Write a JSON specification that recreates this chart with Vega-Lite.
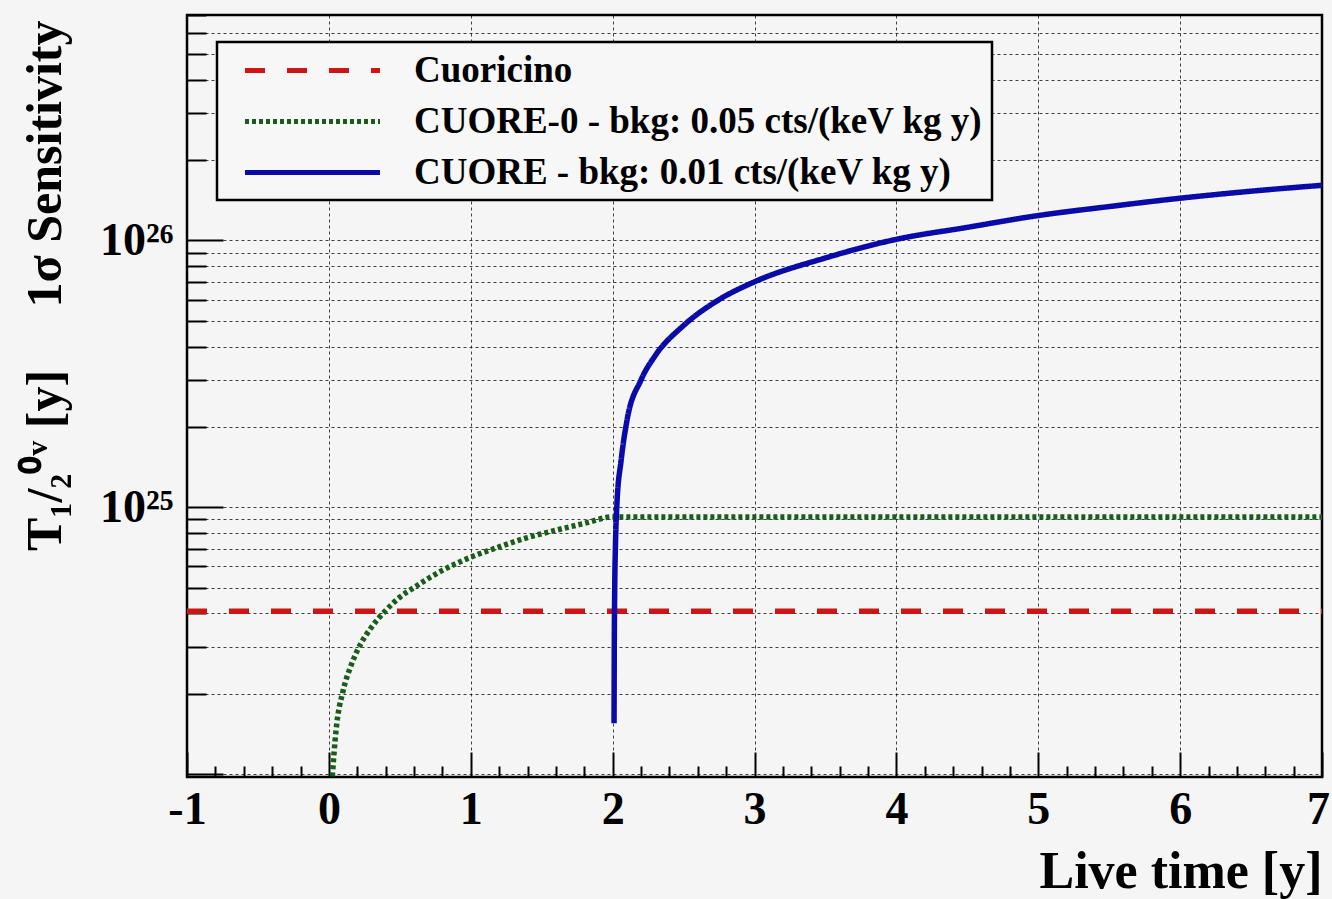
{
  "$schema": "https://vega.github.io/schema/vega-lite/v6.json",
  "width": 1135,
  "height": 762,
  "autosize": {"type": "none"},
  "padding": {"left": 187, "top": 15, "right": 10, "bottom": 122},
  "background": "#f5f5f5",
  "config": {
    "view": {"stroke": "#000000", "strokeWidth": 2.5, "fill": "#f5f5f5"},
    "font": "Liberation Serif"
  },
  "data": {
    "values": [
      {"series": "Cuoricino", "x": -1, "y": 4.08e24},
      {"series": "Cuoricino", "x": 7, "y": 4.08e24},
      {"series": "CUORE-0 - bkg: 0.05 cts/(keV kg y)", "x": 0.024, "y": 0.98e24},
      {"series": "CUORE-0 - bkg: 0.05 cts/(keV kg y)", "x": 0.05, "y": 1.45e24},
      {"series": "CUORE-0 - bkg: 0.05 cts/(keV kg y)", "x": 0.1, "y": 2.05e24},
      {"series": "CUORE-0 - bkg: 0.05 cts/(keV kg y)", "x": 0.15, "y": 2.5e24},
      {"series": "CUORE-0 - bkg: 0.05 cts/(keV kg y)", "x": 0.2, "y": 2.9e24},
      {"series": "CUORE-0 - bkg: 0.05 cts/(keV kg y)", "x": 0.3, "y": 3.55e24},
      {"series": "CUORE-0 - bkg: 0.05 cts/(keV kg y)", "x": 0.4, "y": 4.1e24},
      {"series": "CUORE-0 - bkg: 0.05 cts/(keV kg y)", "x": 0.5, "y": 4.6e24},
      {"series": "CUORE-0 - bkg: 0.05 cts/(keV kg y)", "x": 0.6, "y": 5.0e24},
      {"series": "CUORE-0 - bkg: 0.05 cts/(keV kg y)", "x": 0.8, "y": 5.8e24},
      {"series": "CUORE-0 - bkg: 0.05 cts/(keV kg y)", "x": 1.0, "y": 6.5e24},
      {"series": "CUORE-0 - bkg: 0.05 cts/(keV kg y)", "x": 1.2, "y": 7.1e24},
      {"series": "CUORE-0 - bkg: 0.05 cts/(keV kg y)", "x": 1.4, "y": 7.7e24},
      {"series": "CUORE-0 - bkg: 0.05 cts/(keV kg y)", "x": 1.6, "y": 8.2e24},
      {"series": "CUORE-0 - bkg: 0.05 cts/(keV kg y)", "x": 1.8, "y": 8.7e24},
      {"series": "CUORE-0 - bkg: 0.05 cts/(keV kg y)", "x": 2.0, "y": 9.2e24},
      {"series": "CUORE-0 - bkg: 0.05 cts/(keV kg y)", "x": 7.0, "y": 9.2e24},
      {"series": "CUORE - bkg: 0.01 cts/(keV kg y)", "x": 2.01, "y": 1.55e24},
      {"series": "CUORE - bkg: 0.01 cts/(keV kg y)", "x": 2.012, "y": 3.2e24},
      {"series": "CUORE - bkg: 0.01 cts/(keV kg y)", "x": 2.015, "y": 5.1e24},
      {"series": "CUORE - bkg: 0.01 cts/(keV kg y)", "x": 2.02, "y": 7.2e24},
      {"series": "CUORE - bkg: 0.01 cts/(keV kg y)", "x": 2.03, "y": 1.02e25},
      {"series": "CUORE - bkg: 0.01 cts/(keV kg y)", "x": 2.06, "y": 1.5e25},
      {"series": "CUORE - bkg: 0.01 cts/(keV kg y)", "x": 2.1, "y": 2.1e25},
      {"series": "CUORE - bkg: 0.01 cts/(keV kg y)", "x": 2.2, "y": 3.0e25},
      {"series": "CUORE - bkg: 0.01 cts/(keV kg y)", "x": 2.3, "y": 3.7e25},
      {"series": "CUORE - bkg: 0.01 cts/(keV kg y)", "x": 2.5, "y": 4.8e25},
      {"series": "CUORE - bkg: 0.01 cts/(keV kg y)", "x": 2.75, "y": 6.0e25},
      {"series": "CUORE - bkg: 0.01 cts/(keV kg y)", "x": 3.0, "y": 7.0e25},
      {"series": "CUORE - bkg: 0.01 cts/(keV kg y)", "x": 3.5, "y": 8.6e25},
      {"series": "CUORE - bkg: 0.01 cts/(keV kg y)", "x": 4.0, "y": 1.01e26},
      {"series": "CUORE - bkg: 0.01 cts/(keV kg y)", "x": 4.5, "y": 1.12e26},
      {"series": "CUORE - bkg: 0.01 cts/(keV kg y)", "x": 5.0, "y": 1.24e26},
      {"series": "CUORE - bkg: 0.01 cts/(keV kg y)", "x": 5.5, "y": 1.34e26},
      {"series": "CUORE - bkg: 0.01 cts/(keV kg y)", "x": 6.0, "y": 1.44e26},
      {"series": "CUORE - bkg: 0.01 cts/(keV kg y)", "x": 6.5, "y": 1.53e26},
      {"series": "CUORE - bkg: 0.01 cts/(keV kg y)", "x": 7.0, "y": 1.61e26}
    ]
  },
  "mark": {"type": "line", "strokeWidth": 5.5, "clip": true, "interpolate": "monotone"},
  "encoding": {
    "x": {
      "field": "x",
      "type": "quantitative",
      "scale": {"domain": [-1, 7], "nice": false, "zero": false},
      "axis": {
        "title": "Live time [y]",
        "titleFont": "Liberation Serif",
        "titleFontSize": 52,
        "titleFontWeight": "bold",
        "titleColor": "#000000",
        "titleAnchor": "end",
        "titleAlign": "right",
        "titleBaseline": "alphabetic",
        "titleX": 1135,
        "titleY": 110,
        "values": [-1, -0.8, -0.6, -0.4, -0.2, 0, 0.2, 0.4, 0.6, 0.8, 1, 1.2, 1.4, 1.6, 1.8, 2, 2.2, 2.4, 2.6, 2.8, 3, 3.2, 3.4, 3.6, 3.8, 4, 4.2, 4.4, 4.6, 4.8, 5, 5.2, 5.4, 5.6, 5.8, 6, 6.2, 6.4, 6.6, 6.8, 7],
        "labelExpr": "abs(datum.value - round(datum.value)) < 0.01 ? '' + round(datum.value) : ''",
        "labelFont": "Liberation Serif",
        "labelFontSize": 46,
        "labelFontWeight": "bold",
        "labelColor": "#000000",
        "labelPadding": {"condition": {"test": "abs(datum.value - round(datum.value)) < 0.01", "value": 35}, "value": 20},
        "labelOffset": {"condition": {"test": "datum.value > 6.9", "value": -4}, "value": 0},
        "labelFlush": false,
        "labelOverlap": false,
        "domain": false,
        "ticks": true,
        "tickColor": "#000000",
        "tickWidth": 2,
        "tickSize": {"condition": {"test": "abs(datum.value - round(datum.value)) < 0.01", "value": -25}, "value": -11},
        "grid": true,
        "gridColor": "#000000",
        "gridDash": [3, 3],
        "gridWidth": 1,
        "gridOpacity": {"condition": {"test": "abs(datum.value - round(datum.value)) < 0.01", "value": 0.75}, "value": 0}
      }
    },
    "y": {
      "field": "y",
      "type": "quantitative",
      "scale": {"type": "log", "domain": [9.75e23, 7e26], "nice": false},
      "axis": {
        "title": "T₁/₂⁰ᵛ\u00a0[y]\u00a0\u00a0\u00a0\u00a0\u00a01σ\u00a0Sensitivity",
        "titleFont": "Liberation Serif",
        "titleFontSize": 50,
        "titleFontWeight": "bold",
        "titleColor": "#000000",
        "titleAnchor": "end",
        "titleAlign": "right",
        "titleAngle": -90,
        "titleBaseline": "middle",
        "titleX": -142,
        "titleY": 5,
        "values": [1e24, 2e24, 3e24, 4e24, 5e24, 6e24, 7e24, 8e24, 9e24, 1e25, 2e25, 3e25, 4e25, 5e25, 6e25, 7e25, 8e25, 9e25, 1e26, 2e26, 3e26, 4e26, 5e26, 6e26, 7e26],
        "labelExpr": "abs(datum.value - 1e25) < 1e22 ? '10²⁵' : (abs(datum.value - 1e26) < 1e23 ? '10²⁶' : '')",
        "labelFont": "Liberation Serif",
        "labelFontSize": 46,
        "labelFontWeight": "bold",
        "labelColor": "#000000",
        "labelPadding": {"condition": {"test": "abs(log(datum.value)/LN10 - round(log(datum.value)/LN10)) < 0.001", "value": 50}, "value": 30},
        "labelFlush": false,
        "labelOverlap": false,
        "domain": false,
        "ticks": true,
        "tickColor": "#000000",
        "tickWidth": 2,
        "tickSize": {"condition": {"test": "abs(log(datum.value)/LN10 - round(log(datum.value)/LN10)) < 0.001", "value": -36}, "value": -19},
        "grid": true,
        "gridColor": "#000000",
        "gridDash": [3, 3],
        "gridWidth": 1,
        "gridOpacity": 0.75
      }
    },
    "color": {
      "field": "series",
      "type": "nominal",
      "scale": {
        "domain": ["Cuoricino", "CUORE-0 - bkg: 0.05 cts/(keV kg y)", "CUORE - bkg: 0.01 cts/(keV kg y)"],
        "range": ["#cc1515", "#1a5c1a", "#0a0aa8"]
      },
      "legend": {
        "title": null,
        "orient": "none",
        "legendX": 30,
        "legendY": 27,
        "direction": "vertical",
        "fillColor": "#f7f7f7",
        "strokeColor": "#000000",
        "padding": 9,
        "cornerRadius": 0,
        "symbolType": "M-4,0H4",
        "symbolSize": 1139,
        "symbolStrokeWidth": 5,
        "symbolOffset": 67,
        "labelOffset": 82,
        "labelFont": "Liberation Serif",
        "labelFontSize": 37,
        "labelFontWeight": "bold",
        "labelColor": "#000000",
        "labelLimit": 1000,
        "rowPadding": 13,
        "encode": {"legend": {"update": {"strokeWidth": {"value": 2.5}}}}
      }
    },
    "strokeDash": {
      "field": "series",
      "type": "nominal",
      "scale": {
        "domain": ["Cuoricino", "CUORE-0 - bkg: 0.05 cts/(keV kg y)", "CUORE - bkg: 0.01 cts/(keV kg y)"],
        "range": [[20, 22], [4, 3], [1, 0]]
      },
      "legend": null
    },
    "order": {"field": "x", "type": "quantitative"}
  }
}
